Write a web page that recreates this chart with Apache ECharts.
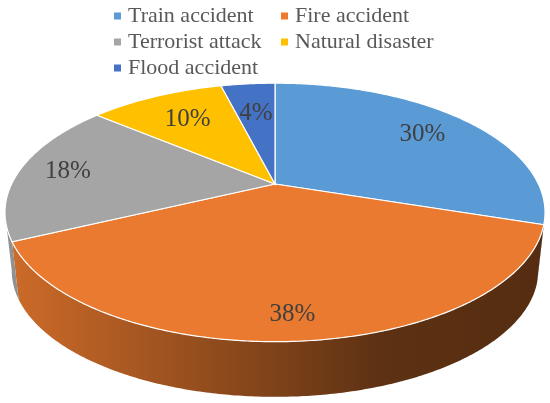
<!DOCTYPE html>
<html>
<head>
<meta charset="utf-8">
<style>
  html, body { margin: 0; padding: 0; background: #fff; }
  #chart { width: 550px; height: 403px; filter: blur(0.4px); }
</style>
</head>
<body>
<div id="chart"></div>
<script src="https://cdn.jsdelivr.net/npm/echarts@6/dist/echarts.min.js"></script>
<script>
var categories = ["Train accident", "Fire accident", "Terrorist attack", "Natural disaster", "Flood accident"];
var shares = [30, 38, 18, 10, 4];
var colors = ["#5B9BD5", "#E97A2F", "#A5A5A5", "#FFC000", "#4472C4"];

// how far out along its slice each percent label sits
var labelReach = [0.76, 0.86, 0.81, 0.7, 0.66];

var total = shares.reduce(function (a, b) { return a + b; }, 0);

// perspective of the tilted disc
var tilt = 0.22;
var top_ = { cx: 275, cy: 184, a: 263.4, b: 123 };
var bottom_ = { cx: 275, cy: 243, a: 256.8, b: 120 };
var sideFrom = Math.acos(-tilt);
var sideTo = 2 * Math.PI - sideFrom;

function project(disc, angle, reach) {
  var u = Math.sin(angle) * reach;
  var v = -Math.cos(angle) * reach;
  var w = 1 - tilt * v;
  return [disc.cx + disc.a * u / w, disc.cy + disc.b * v / w];
}

function rim(disc, from, to) {
  var pts = [];
  var steps = Math.max(2, Math.ceil((to - from) / 0.01));
  for (var i = 0; i <= steps; i++) {
    pts.push(project(disc, from + (to - from) * i / steps, 1));
  }
  return pts;
}

function sliceAngle(index) {
  var sum = 0;
  for (var i = 0; i < index; i++) sum += shares[i];
  return sum / total * 2 * Math.PI;
}

function shade(color, amount) {
  return echarts.color.lerp(amount, ["#000000", color]);
}

function renderSlice(params, api) {
  var i = params.seriesIndex;
  var from = sliceAngle(i);
  var to = from + api.value(0) / total * 2 * Math.PI;
  var color = colors[i];
  var children = [];

  // outer wall of the pie
  var wallFrom = Math.max(from, sideFrom);
  var wallTo = Math.min(to, sideTo);
  if (wallTo > wallFrom) {
    children.push({
      type: "polygon",
      z2: 1,
      shape: { points: rim(top_, wallFrom, wallTo).concat(rim(bottom_, wallFrom, wallTo).reverse()) },
      style: {
        fill: new echarts.graphic.LinearGradient(10, 0, 540, 0, [
          { offset: 0, color: shade(color, 0.88) },
          { offset: 0.5, color: shade(color, 0.54) },
          { offset: 0.7, color: shade(color, 0.4) },
          { offset: 1, color: shade(color, 0.37) }
        ], true)
      }
    });
  }

  // top face
  children.push({
    type: "polygon",
    z2: 2,
    shape: { points: [project(top_, 0, 0)].concat(rim(top_, from, to)) },
    style: { fill: color, stroke: "#fff", lineWidth: 1.2 }
  });

  var pos = project(top_, (from + to) / 2, labelReach[i]);
  children.push({
    type: "text",
    z2: 10,
    style: {
      x: pos[0],
      y: pos[1],
      text: Math.round(api.value(0) / total * 100) + "%",
      align: "center",
      verticalAlign: "middle",
      font: '25px "Liberation Serif"',
      fill: "#404040"
    }
  });

  return { type: "group", children: children };
}

var legendBase = {
  orient: "vertical",
  top: 5,
  padding: 0,
  icon: "rect",
  itemWidth: 7,
  itemHeight: 7,
  itemGap: 4,
  selectedMode: false,
  textStyle: {
    fontFamily: "Liberation Serif",
    fontSize: 22,
    color: "#595959",
    lineHeight: 22,
    padding: [0, 0, 0, 2]
  }
};

var mychart = echarts.init(document.getElementById("chart"), null, { renderer: "canvas" });
mychart.setOption({
  animation: false,
  backgroundColor: "#fff",
  color: colors,
  legend: [
    Object.assign({}, legendBase, { left: 114, data: [categories[0], categories[2], categories[4]] }),
    Object.assign({}, legendBase, { left: 281, data: [categories[1], categories[3]] })
  ],
  series: categories.map(function (name, i) {
    return {
      type: "custom",
      name: name,
      coordinateSystem: "none",
      silent: true,
      renderItem: renderSlice,
      data: [[shares[i]]]
    };
  })
});
</script>
</body>
</html>
